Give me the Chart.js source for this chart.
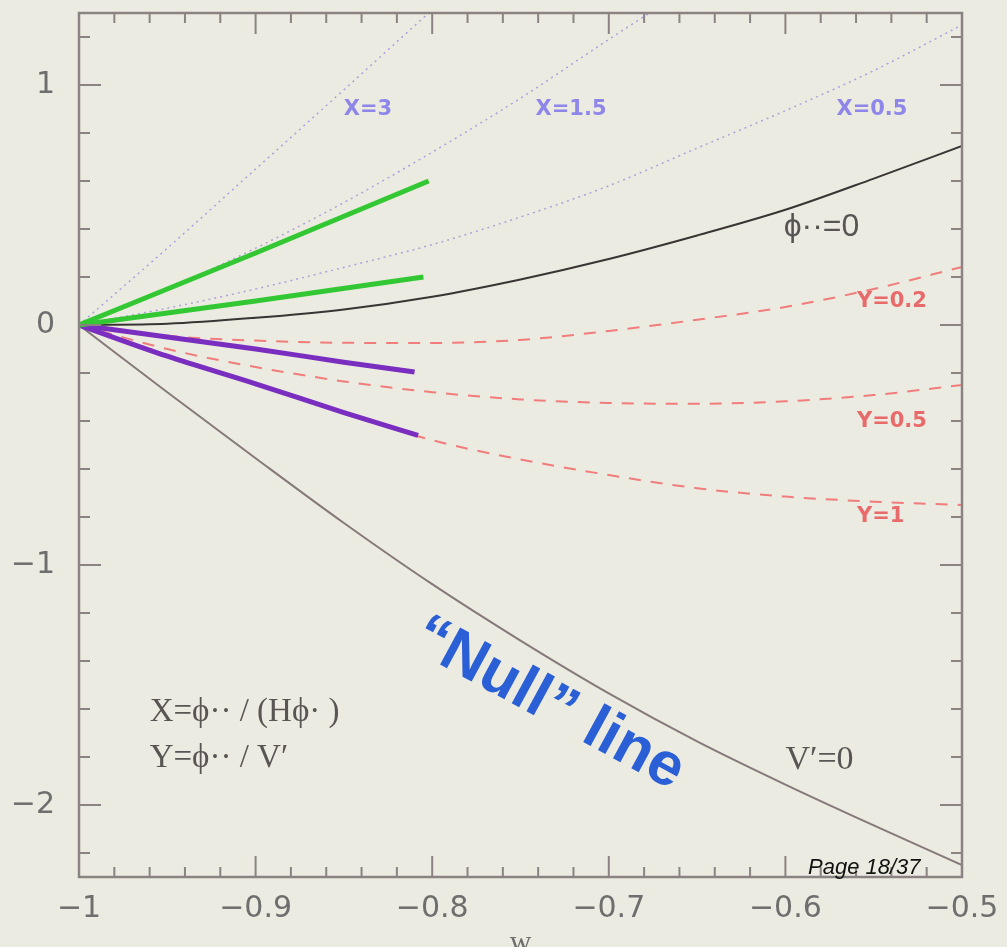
<!DOCTYPE html>
<html>
<head>
<meta charset="utf-8">
<script src="https://cdn.jsdelivr.net/npm/chart.js@4"></script>
<style>
  html, body { margin: 0; padding: 0; background: #ecebe1; overflow: hidden; }
  canvas { display: block; }
</style>
</head>
<body>
<canvas id="wPlane" width="1007" height="947"></canvas>
<script>
// w - w' plane: trajectories and boundary curves
const wGrid = [-1, -0.95, -0.9, -0.85, -0.8, -0.75, -0.7, -0.65, -0.6, -0.55, -0.5];

const phiDDotZero = [0, 0.005, 0.03, 0.065, 0.118, 0.19, 0.275, 0.373, 0.48, 0.61, 0.746];
const vPrimeZero = [0, -0.28, -0.555, -0.825, -1.08, -1.315, -1.535, -1.735, -1.915, -2.085, -2.25];

const yEq02 = [0, -0.045, -0.065, -0.074, -0.075, -0.062, -0.025, 0.022, 0.075, 0.15, 0.242];
const yEq05 = [0, -0.10, -0.175, -0.235, -0.28, -0.31, -0.325, -0.328, -0.318, -0.292, -0.25];
const yEq1 = [0, -0.125, -0.245, -0.365, -0.48, -0.56, -0.625, -0.68, -0.715, -0.736, -0.75];

const xEq05 = [0, 0.07, 0.15, 0.24, 0.335, 0.45, 0.58, 0.737, 0.893, 1.06, 1.25];
const xEq15W = [-1, -0.95, -0.9, -0.85, -0.8, -0.75, -0.7, -0.677];
const xEq15 = [0, 0.15, 0.32, 0.51, 0.72, 0.945, 1.19, 1.3];
const xEq3W = [-1, -0.95, -0.9, -0.85, -0.802];
const xEq3 = [0, 0.32, 0.65, 0.98, 1.3];

const greenUpperW = [-1, -0.9, -0.802];
const greenUpper = [0, 0.3, 0.6];
const greenLowerW = [-1, -0.9, -0.805];
const greenLower = [0, 0.1, 0.2];

const purpleUpperW = [-1, -0.95, -0.9, -0.85, -0.81];
const purpleUpper = [0, -0.05, -0.1, -0.155, -0.196];
const purpleLowerW = [-1, -0.95, -0.9, -0.85, -0.808];
const purpleLower = [0, -0.13, -0.245, -0.365, -0.46];

const xTicks = [-1, -0.9, -0.8, -0.7, -0.6, -0.5];
const yTicks = [-2, -1, 0, 1];

const BG = '#ecebe1';
const FRAME = '#8b8383';

function pts(ws, vs) {
  return ws.map((w, i) => ({ x: w, y: vs[i] }));
}

function line(ws, vs, color, width, dash) {
  return {
    data: pts(ws, vs),
    showLine: true,
    borderColor: color,
    borderWidth: width,
    borderDash: dash || [],
    pointRadius: 0,
    cubicInterpolationMode: 'monotone',
    fill: false
  };
}

function minusLabel(v) {
  const s = String(parseFloat(Math.abs(v).toFixed(2)));
  return v < 0 ? '\u2212' + s : s;
}

// frame with inward ticks on all four sides
const frameTicks = {
  id: 'frameTicks',
  afterDatasetsDraw(chart) {
    const { ctx, chartArea: a, scales: { x, y } } = chart;
    ctx.save();
    ctx.strokeStyle = FRAME;
    ctx.lineWidth = 2;
    ctx.beginPath();
    for (let i = 0; i <= 25; i++) {
      const px = x.getPixelForValue(-1 + i * 0.02);
      const len = i % 5 === 0 ? 21 : 10;
      ctx.moveTo(px, a.bottom); ctx.lineTo(px, a.bottom - len);
      ctx.moveTo(px, a.top); ctx.lineTo(px, a.top + len);
    }
    for (let i = -11; i <= 6; i++) {
      const py = y.getPixelForValue(i * 0.2);
      const len = i % 5 === 0 ? 22 : 11;
      ctx.moveTo(a.left, py); ctx.lineTo(a.left + len, py);
      ctx.moveTo(a.right, py); ctx.lineTo(a.right - len, py);
    }
    ctx.stroke();
    ctx.lineWidth = 2.5;
    ctx.strokeRect(a.left, a.top, a.right - a.left, a.bottom - a.top);
    ctx.restore();
  }
};

// curve labels, formulae and the page footer
const annotations = {
  id: 'annotations',
  afterDraw(chart) {
    const { ctx, chartArea: a, scales: { x, y } } = chart;
    const at = (w, v) => [x.getPixelForValue(w), y.getPixelForValue(v)];
    const text = (s, w, v, font, color, align) => {
      const [px, py] = at(w, v);
      ctx.font = font;
      ctx.fillStyle = color;
      ctx.textAlign = align || 'left';
      ctx.textBaseline = 'middle';
      ctx.fillText(s, px, py);
    };
    ctx.save();

    const blue = '#8f86ea';
    const smallBold = 'bold 21px "DejaVu Sans"';
    text('X=3', -0.8364, 0.896, smallBold, blue, 'center');
    text('X=1.5', -0.7214, 0.896, smallBold, blue, 'center');
    text('X=0.5', -0.551, 0.896, smallBold, blue, 'center');

    const red = '#e86a6a';
    text('Y=0.2', -0.5595, 0.096, smallBold, red);
    text('Y=0.5', -0.5595, -0.404, smallBold, red);
    text('Y=1', -0.5595, -0.80, smallBold, red);

    const grey = '#5a5555';
    text('\u03d5\u00b7\u00b7=0', -0.601, 0.408, '32px "Liberation Sans"', grey);
    text('V\u2032=0', -0.6, -1.8125, '34px "Liberation Serif"', grey);
    text('X=\u03d5\u00b7\u00b7 / (H\u03d5\u00b7 )', -0.96, -1.6125, '33px "Liberation Serif"', grey);
    text('Y=\u03d5\u00b7\u00b7 / V\u2032', -0.96, -1.804, '33px "Liberation Serif"', grey);

    // rotated "Null" line caption
    const [nx, ny] = at(-0.734, -1.58);
    ctx.translate(nx, ny);
    ctx.rotate(28.5 * Math.PI / 180);
    ctx.font = 'bold 61px "Liberation Sans"';
    ctx.fillStyle = '#2b5fd6';
    ctx.textAlign = 'center';
    ctx.textBaseline = 'middle';
    ctx.fillText('\u201cNull\u201d line', 0, 0);
    ctx.setTransform(1, 0, 0, 1, 0, 0);

    // axis title, cut by the lower edge
    ctx.font = '30px "Liberation Serif"';
    ctx.fillStyle = '#6e6e6e';
    ctx.textAlign = 'center';
    ctx.textBaseline = 'alphabetic';
    ctx.fillText('w', (a.left + a.right) / 2, 951);

    ctx.font = 'italic 22px "Liberation Sans"';
    ctx.fillStyle = '#111';
    ctx.textAlign = 'left';
    ctx.fillText('Page 18/37', 808, 874);
    ctx.restore();
  }
};

const datasets = [
  line(greenUpperW, greenUpper, '#33c833', 5),
  line(greenLowerW, greenLower, '#33c833', 5),
  line(purpleUpperW, purpleUpper, '#7a2ec0', 5),
  line(purpleLowerW, purpleLower, '#7a2ec0', 5),
  line(wGrid, phiDDotZero, '#3a3535', 2),
  line(wGrid, vPrimeZero, '#85797a', 2),
  line(wGrid, yEq02, '#f07c7c', 2, [12, 10]),
  line(wGrid, yEq05, '#f07c7c', 2, [12, 10]),
  line(wGrid, yEq1, '#f07c7c', 2, [12, 10]),
  line(wGrid, xEq05, '#b0a0dc', 1.5, [2, 4]),
  line(xEq15W, xEq15, '#b0a0dc', 1.5, [2, 4]),
  line(xEq3W, xEq3, '#b0a0dc', 1.5, [2, 4])
];

new Chart(document.getElementById('wPlane'), {
  type: 'scatter',
  data: { datasets },
  options: {
    responsive: false,
    animation: false,
    events: [],
    layout: { padding: { top: 13, right: 45, left: 0, bottom: 0 } },
    plugins: { legend: { display: false }, tooltip: { enabled: false } },
    scales: {
      x: {
        type: 'linear',
        min: -1,
        max: -0.5,
        afterBuildTicks: (s) => { s.ticks = xTicks.map(v => ({ value: v })); },
        afterFit: (s) => { s.height = 70; s.paddingLeft = 0; s.paddingRight = 0; },
        grid: { display: false, drawTicks: false },
        border: { display: false },
        ticks: {
          padding: 14,
          color: '#6e6e6e',
          font: { family: 'DejaVu Sans', size: 30 },
          maxRotation: 0,
          callback: minusLabel
        }
      },
      y: {
        type: 'linear',
        min: -2.3,
        max: 1.3,
        afterBuildTicks: (s) => { s.ticks = yTicks.map(v => ({ value: v })); },
        afterFit: (s) => { s.width = 79; s.paddingTop = 0; s.paddingBottom = 0; },
        grid: { display: false, drawTicks: false },
        border: { display: false },
        ticks: {
          padding: 24,
          color: '#6e6e6e',
          font: { family: 'DejaVu Sans', size: 30 },
          callback: minusLabel
        }
      }
    }
  },
  plugins: [frameTicks, annotations]
});
</script>
</body>
</html>
